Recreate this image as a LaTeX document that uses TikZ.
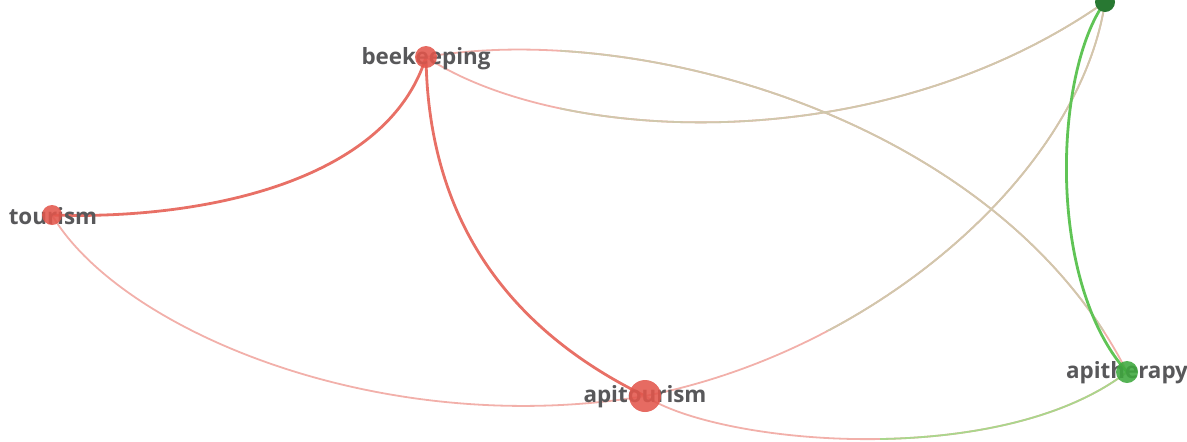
\documentclass[tikz,border=0pt]{standalone}
\usepackage{fontspec}
\setmainfont{Open Sans}
\usepackage{tikz}
\usetikzlibrary{backgrounds}
\definecolor{dotred}{RGB}{226,86,76}
\definecolor{dotgreen}{RGB}{62,168,62}
\definecolor{darkgreen}{RGB}{40,120,50}
\definecolor{linkred}{RGB}{232,112,102}
\definecolor{linkpale}{RGB}{242,176,170}
\definecolor{linkmix}{RGB}{208,200,172}
\definecolor{linklime}{RGB}{170,214,140}
\definecolor{linkgreen}{RGB}{96,196,86}
\definecolor{labelgray}{RGB}{88,88,90}

\begin{document}
\begin{tikzpicture}[x=0.5pt,y=-0.5pt,
    word/.style={font=\fontsize{11.2}{13}\selectfont\bfseries,text=labelgray,inner sep=0pt},
    reddot/.style={circle,fill=dotred,fill opacity=0.88,inner sep=0pt},
    greendot/.style={circle,fill=dotgreen,fill opacity=0.88,inner sep=0pt},
    redlink/.style={draw=linkred,line width=1.4pt},
    palelink/.style={draw=linkpale,line width=0.9pt},
    mixlink/.style={draw=linkmix,line width=0.9pt},
    limelink/.style={draw=linklime,line width=0.9pt},
    greenlink/.style={draw=linkgreen,line width=1.4pt}]
  \useasboundingbox (0,0) rectangle (1187,441);

  \node[word] (beekeepingtxt) at (426,59) {beekeeping};
  \node[reddot,minimum size=11pt] (beekeeping) at (426,57) {};
  \node[word] (tourismtxt) at (53,216) {tourism};
  \node[reddot,minimum size=10pt] (tourism) at (52,215) {};
  \node[word] (apitourismtxt) at (645,397) {apitourism};
  \node[reddot,minimum size=16pt] (apitourism) at (645,396) {};
  \node[word] (apitherapytxt) at (1127,373) {apitherapy};
  \node[greendot,minimum size=11pt] (apitherapy) at (1127,372) {};
  \node[circle,fill=darkgreen,inner sep=0pt,minimum size=10pt] (topgreen) at (1105,2) {};

  \begin{scope}[on background layer]
    \draw[redlink] (tourism.center) .. controls (200,220) and (387,183) .. (beekeeping.center);
    \draw[redlink] (beekeeping.center) .. controls (428,200) and (490,320) .. (apitourism.center);
    \draw[palelink] (tourism.center) .. controls (120,330) and (380,440) .. (apitourism.center);
    % pink near the red dots, olive further on
    \draw[palelink] (beekeeping.center) .. controls (640,20) and (1000,120) .. (apitherapy.center);
    \draw[palelink] (beekeeping.center) .. controls (560,145) and (880,160) .. (topgreen.center);
    \draw[palelink] (apitourism.center) .. controls (880,350) and (1080,170) .. (topgreen.center);
    \draw[palelink] (apitourism.center) .. controls (720,445) and (1000,470) .. (apitherapy.center);
    \begin{scope}
      \clip (560,0) rectangle (1187,330);
      \draw[mixlink] (beekeeping.center) .. controls (640,20) and (1000,120) .. (apitherapy.center);
      \draw[mixlink] (beekeeping.center) .. controls (560,145) and (880,160) .. (topgreen.center);
      \draw[mixlink] (apitourism.center) .. controls (880,350) and (1080,170) .. (topgreen.center);
    \end{scope}
    \begin{scope}
      \clip (880,0) rectangle (1187,441);
      \draw[limelink] (apitourism.center) .. controls (720,445) and (1000,470) .. (apitherapy.center);
    \end{scope}
    \draw[greenlink] (topgreen.center) .. controls (1055,70) and (1045,280) .. (apitherapy.center);
  \end{scope}
\end{tikzpicture}
\end{document}
